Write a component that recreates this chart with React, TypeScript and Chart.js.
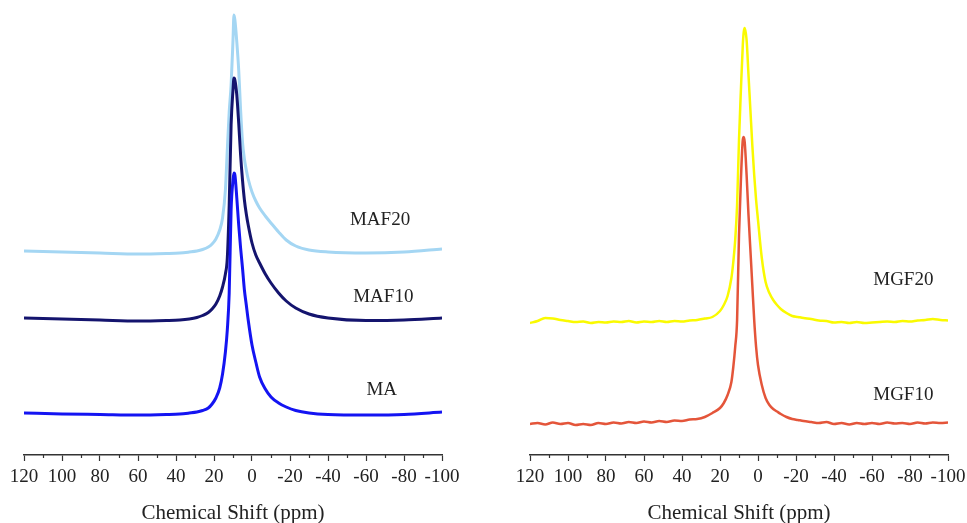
import React, { useEffect, useRef } from 'react';
import { Chart, registerables } from 'chart.js';

Chart.register(...registerables);

// ---------- data ----------
const ppmLeft = [120, 100, 80, 60, 45, 38, 33, 29, 26, 23, 21, 19, 17, 15.5, 14, 13, 12, 11, 10, 9.5, 9, 8, 7, 6, 5, 4, 3, 2, 0, -2, -4, -7, -10, -14, -18, -23, -30, -40, -60, -80, -100];
const maValues = [42, 41, 40.5, 40, 40.5, 41, 42, 43, 44.5, 47, 51, 57, 67, 81, 103, 125, 162, 245, 275, 282, 280, 257, 230, 207, 187, 165, 150, 135, 110, 93, 78, 66, 58, 52, 48, 44.5, 42, 40.5, 40, 40.5, 43];
const maf10Values = [137, 136, 135, 134, 134.5, 135, 136, 137.5, 139.5, 142.5, 146, 151, 159, 168, 181, 197, 250, 330, 365, 377, 375, 360, 332, 300, 275, 255, 241, 230, 212, 200, 192, 181, 172, 162, 154, 147, 141, 137, 134.5, 135, 137];
const maf20Values = [204, 203, 202, 201, 201.5, 202, 203, 204, 205.5, 208, 211, 216, 225, 237, 265, 305, 343, 370, 415, 440, 435, 413, 385, 345, 313, 296, 285, 276, 263, 254, 247, 239, 232, 223, 215, 209, 205, 203, 202, 203, 206];

const ppmRight = [120, 116, 112, 108, 104, 100, 96, 92, 88, 84, 80, 76, 72, 68, 64, 60, 56, 52, 48, 44, 40, 36, 32, 28,
  24, 20, 18, 16, 14, 13, 12, 11, 10, 9, 8, 7.5, 7, 6, 5, 4, 3, 2, 1, 0, -2, -4, -6, -8, -10, -12, -15, -18, -21, -24,
  -28, -32, -36, -40, -44, -48, -52, -56, -60, -64, -68, -72, -76, -80, -84, -88, -92, -96, -100];
const mgf20Values = [132, 134, 137, 136.5, 135, 134, 133, 133.5, 132, 133, 132.5, 133.5, 133, 134, 132.5, 133.5, 133, 134, 133, 134, 133.5, 134.5, 135, 136.5,
  138, 144, 150, 159, 177, 193, 215, 250, 315, 365, 410, 423, 427, 415, 380, 345, 310, 280, 255, 235, 197, 173, 162, 155, 150, 146, 142, 139, 138, 137,
  136, 134.5, 134, 132.5, 133, 132, 133, 132, 132.5, 133, 133.5, 133, 134, 133.5, 134.5, 135, 136, 135, 134.5];
const mgf10Values = [31, 32, 30.5, 32.5, 31, 32, 30, 31, 30, 32, 31, 32.5, 31.5, 33, 32, 33.5, 32.5, 34, 33, 34.5, 34, 35.5, 36, 38,
  42, 47, 52, 60, 73, 88, 108, 135, 220, 275, 315, 318, 313, 280, 240, 205, 170, 135, 108, 90, 70, 57, 50, 46, 43.5, 41, 38, 36, 35, 34,
  33, 32, 33, 31, 32, 30.5, 32, 31, 32, 31, 32.5, 31.5, 32, 31, 32.5, 31.5, 32.5, 32, 32.5];

const leftNames = ['MAF20', 'MAF10', 'MA'];
const leftNamePpm = [-67.4, -69.1, -68.3];
const leftNameY = [235, 158, 65];
const rightNames = ['MGF20', 'MGF10'];
const rightNamePpm = [-76.5, -76.5];
const rightNameY = [175, 60];

const minorTickValues = [110, 90, 70, 50, 30, 10, -10, -30, -50, -70, -90];
const axisTitle = 'Chemical Shift (ppm)';

// ---------- styles ----------
const FONT = '"Liberation Serif", "Times New Roman", serif';
const TEXT = '#222222';
const AXIS = '#333333';

type Label = { text: string; x: number; y: number };

function labelPlugin(labels: Label[]) {
  return {
    id: 'seriesLabels',
    afterDatasetsDraw(chart: any) {
      const { ctx } = chart;
      const xs = chart.scales.x;
      const ys = chart.scales.y;
      ctx.save();
      ctx.fillStyle = TEXT;
      ctx.font = `19px ${FONT}`;
      ctx.textAlign = 'center';
      ctx.textBaseline = 'middle';
      labels.forEach((l) => {
        ctx.fillText(l.text, xs.getPixelForValue(l.x), ys.getPixelForValue(l.y));
      });
      ctx.restore();
    },
  };
}

const minorTicksPlugin = {
  id: 'minorTicks',
  afterDraw(chart: any) {
    const { ctx } = chart;
    const xs = chart.scales.x;
    const y0 = chart.chartArea.bottom;
    ctx.save();
    ctx.strokeStyle = AXIS;
    ctx.lineWidth = 1.2;
    minorTickValues.forEach((v) => {
      const px = Math.round(xs.getPixelForValue(v)) + 0.5;
      ctx.beginPath();
      ctx.moveTo(px, y0);
      ctx.lineTo(px, y0 + 3);
      ctx.stroke();
    });
    ctx.restore();
  },
};

function makeConfig(datasets: any[], labels: Label[], padLeft: number, padRight: number) {
  return {
    type: 'line',
    data: { datasets },
    options: {
      responsive: false,
      animation: false,
      devicePixelRatio: 1,
      layout: { padding: { left: padLeft, right: padRight, top: 0, bottom: 0 } },
      plugins: { legend: { display: false }, tooltip: { enabled: false } },
      elements: { point: { radius: 0 } },
      scales: {
        x: {
          type: 'linear',
          min: -100,
          max: 120,
          reverse: true,
          border: { display: true, color: AXIS, width: 1.5 },
          grid: { drawOnChartArea: false, drawTicks: true, tickLength: 6, tickColor: AXIS, tickWidth: 1.2 },
          ticks: {
            stepSize: 20,
            autoSkip: false,
            maxRotation: 0,
            padding: 7,
            color: TEXT,
            font: { family: FONT, size: 19, lineHeight: 1 },
          },
          title: {
            display: true,
            text: axisTitle,
            color: TEXT,
            font: { family: FONT, size: 21, lineHeight: 1 },
            padding: { top: 9, bottom: 0 },
          },
        },
        y: { type: 'linear', display: false, min: 0, max: 455 },
      },
    },
    plugins: [labelPlugin(labels), minorTicksPlugin],
  };
}

function toPoints(xs: number[], ys: number[]) {
  return xs.map((x, i) => ({ x, y: ys[i] }));
}

function Panel({ left, width, config }: { left: number; width: number; config: any }) {
  const ref = useRef<HTMLCanvasElement | null>(null);
  useEffect(() => {
    if (!ref.current) return;
    const chart = new Chart(ref.current, config);
    return () => chart.destroy();
  }, []);
  return (
    <canvas
      ref={ref}
      width={width}
      height={524}
      style={{ position: 'absolute', left, top: 0, width, height: 524 }}
    />
  );
}

export default function App() {
  const leftConfig = makeConfig(
    [
      { data: toPoints(ppmLeft, maValues), borderColor: '#1414f2', borderWidth: 3, cubicInterpolationMode: 'monotone', order: 0 },
      { data: toPoints(ppmLeft, maf10Values), borderColor: '#14146e', borderWidth: 3, cubicInterpolationMode: 'monotone', order: 1 },
      { data: toPoints(ppmLeft, maf20Values), borderColor: '#a4d6f3', borderWidth: 3, cubicInterpolationMode: 'monotone', order: 2 },
    ],
    leftNames.map((t, i) => ({ text: t, x: leftNamePpm[i], y: leftNameY[i] })),
    24,
    41
  );
  const rightConfig = makeConfig(
    [
      { data: toPoints(ppmRight, mgf10Values), borderColor: '#e4553a', borderWidth: 2.5, cubicInterpolationMode: 'monotone', order: 0 },
      { data: toPoints(ppmRight, mgf20Values), borderColor: '#fafa00', borderWidth: 2.5, cubicInterpolationMode: 'monotone', order: 1 },
    ],
    rightNames.map((t, i) => ({ text: t, x: rightNamePpm[i], y: rightNameY[i] })),
    47,
    27
  );
  return (
    <div style={{ position: 'fixed', left: 0, top: 0, width: 967, height: 523, overflow: 'hidden', background: '#ffffff' }}>
      <Panel left={0} width={483} config={leftConfig} />
      <Panel left={483} width={492} config={rightConfig} />
    </div>
  );
}
